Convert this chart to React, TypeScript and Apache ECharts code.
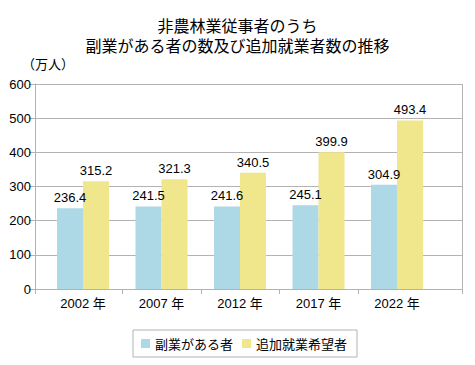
import React, { useEffect, useRef } from "react";
import * as echarts from "echarts";

const categories = ["2002 年", "2007 年", "2012 年", "2017 年", "2022 年"];
const sideJobHolders = [236.4, 241.5, 241.6, 245.1, 304.9];
const additionalJobSeekers = [315.2, 321.3, 340.5, 399.9, 493.4];
const seriesNames = ["副業がある者", "追加就業希望者"];
const titleText = "非農林業従事者のうち\n副業がある者の数及び追加就業者数の推移";
const unitText = "（万人）";

const FONT = "'Liberation Sans', 'Noto Sans CJK JP', sans-serif";
const GRAY = "#b3b3b3";

export default function App() {
  const ref = useRef<HTMLDivElement>(null);
  useEffect(() => {
    if (!ref.current) return;
    const chart = echarts.init(ref.current, null, { renderer: "svg" });
    const wall = { left: 35, right: 13, top: 84, bottom: 76 };
    const band = { left: 43.75, right: 38.75, top: 84, bottom: 76 };
    chart.setOption({
      animation: false,
      backgroundColor: "#ffffff",
      textStyle: { fontFamily: FONT },
      title: {
        text: titleText,
        left: "center",
        top: 15,
        padding: [0, 0, 0, 7],
        textStyle: {
          fontFamily: "'Noto Sans CJK JP', sans-serif",
          fontSize: 16,
          fontWeight: "normal",
          lineHeight: 20,
          color: "#000",
        },
      },
      graphic: [
        {
          type: "text",
          x: 48,
          y: 63,
          style: {
            text: unitText,
            fontFamily: "'Noto Sans CJK JP', sans-serif",
            fontSize: 13,
            fill: "#000",
            align: "center",
            verticalAlign: "middle",
          },
        },
      ],
      legend: {
        data: seriesNames,
        left: 133,
        top: 330,
        padding: [7, 10, 7, 8],
        itemGap: 9,
        itemWidth: 9,
        itemHeight: 9,
        icon: "rect",
        borderColor: GRAY,
        borderWidth: 1,
        textStyle: {
          fontFamily: "'Noto Sans CJK JP', sans-serif",
          fontSize: 13,
          color: "#000",
        },
      },
      grid: [
        { ...wall },
        { ...band },
        { left: band.left, right: band.right, top: 289, height: 5 },
        { left: wall.left, right: wall.right, top: 289, height: 5 },
      ],
      xAxis: [
        {
          gridIndex: 0,
          type: "value",
          min: 0,
          max: 1,
          interval: 1,
          axisLine: { show: false },
          axisTick: { show: false },
          axisLabel: { show: false },
          splitLine: { show: true, lineStyle: { color: GRAY, width: 1 } },
        },
        {
          gridIndex: 1,
          type: "category",
          data: categories,
          axisLine: { show: false },
          axisTick: { show: false },
          axisLabel: { fontSize: 13, color: "#000", margin: 8, fontFamily: FONT },
          splitLine: { show: false },
        },
        {
          gridIndex: 2,
          type: "category",
          data: categories,
          axisLine: { show: false },
          axisTick: { show: false },
          axisLabel: { show: false },
          splitLine: {
            show: true,
            showMinLine: false,
            showMaxLine: false,
            lineStyle: { color: GRAY, width: 1 },
          },
        },
        {
          gridIndex: 3,
          type: "value",
          min: 0,
          max: 1,
          interval: 1,
          axisLine: { show: false },
          axisTick: { show: false },
          axisLabel: { show: false },
          splitLine: { show: true, lineStyle: { color: GRAY, width: 1 } },
        },
      ],
      yAxis: [
        {
          gridIndex: 0,
          type: "value",
          min: 0,
          max: 600,
          interval: 100,
          axisLine: { show: true, lineStyle: { color: GRAY, width: 1 } },
          axisTick: { show: true, length: 6, lineStyle: { color: GRAY } },
          axisLabel: { fontSize: 13, color: "#000", margin: 4, fontFamily: FONT },
          splitLine: { show: true, lineStyle: { color: GRAY, width: 1 } },
        },
        { gridIndex: 1, type: "value", min: 0, max: 600, show: false },
        { gridIndex: 2, type: "value", min: 0, max: 1, show: false },
        { gridIndex: 3, type: "value", min: 0, max: 1, show: false },
      ],
      series: [
        {
          name: seriesNames[0],
          type: "bar",
          xAxisIndex: 1,
          yAxisIndex: 1,
          data: sideJobHolders,
          barWidth: 26,
          barGap: "0%",
          itemStyle: { color: "#add8e6" },
          label: {
            show: true,
            position: "top",
            distance: 4,
            fontSize: 13,
            color: "#000",
            fontFamily: FONT,
          },
        },
        {
          name: seriesNames[1],
          type: "bar",
          xAxisIndex: 1,
          yAxisIndex: 1,
          data: additionalJobSeekers,
          barWidth: 26,
          barGap: "0%",
          itemStyle: { color: "#f0e68c" },
          label: {
            show: true,
            position: "top",
            distance: 4,
            fontSize: 13,
            color: "#000",
            fontFamily: FONT,
          },
        },
      ],
    });
    return () => chart.dispose();
  }, []);
  return (
    <div
      ref={ref}
      style={{ position: "fixed", left: 0, top: 0, width: 475, height: 365 }}
    />
  );
}
